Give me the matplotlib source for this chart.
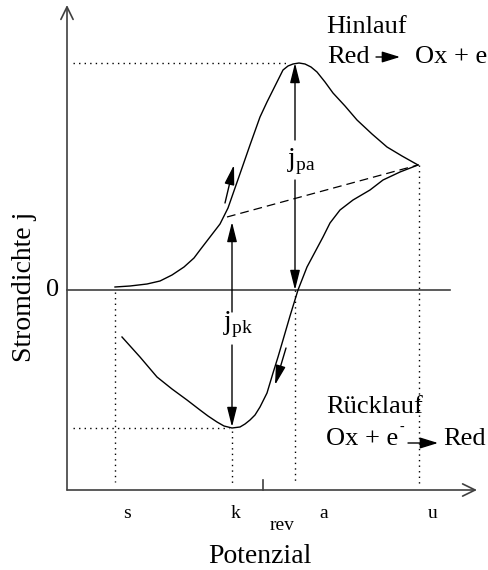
import matplotlib.pyplot as plt

plt.rcParams['font.family'] = ['Liberation Serif', 'DejaVu Serif']
plt.rcParams['mathtext.fontset'] = 'custom'
plt.rcParams['mathtext.rm'] = 'Liberation Serif'

# Hinlauf (Vorwaertsscan): Potenzial / Stromdichte
hin_E = [0.48, 0.63, 0.80, 0.93, 1.05, 1.17, 1.27, 1.33, 1.43, 1.53, 1.61, 1.68,
         1.75, 1.83, 1.93, 2.00, 2.06, 2.11, 2.16, 2.21, 2.26, 2.32, 2.38, 2.44,
         2.50, 2.58, 2.66, 2.78, 2.90, 3.05, 3.20, 3.35, 3.51]
hin_j = [0.03, 0.04, 0.06, 0.09, 0.15, 0.23, 0.32, 0.40, 0.53, 0.66, 0.82, 1.02,
         1.22, 1.45, 1.73, 1.88, 2.00, 2.10, 2.20, 2.24, 2.26, 2.27, 2.26, 2.23,
         2.18, 2.08, 1.97, 1.84, 1.70, 1.56, 1.43, 1.34, 1.25]

# Ruecklauf
rueck_E = [3.51, 3.33, 3.16, 3.03, 2.86, 2.73, 2.63, 2.56, 2.48, 2.40, 2.31, 2.23,
           2.16, 2.11, 2.06, 2.00, 1.93, 1.88, 1.83, 1.78, 1.73, 1.65, 1.57, 1.50,
           1.41, 1.33, 1.20, 1.05, 0.90, 0.73, 0.55]
rueck_j = [1.25, 1.18, 1.10, 1.00, 0.90, 0.80, 0.67, 0.53, 0.38, 0.23, 0.00, -0.26,
           -0.50, -0.67, -0.83, -1.03, -1.17, -1.25, -1.30, -1.34, -1.37, -1.38,
           -1.36, -1.32, -1.26, -1.20, -1.10, -0.99, -0.87, -0.67, -0.47]

# charakteristische Potenziale und Stroeme
E_s, E_k, E_rev, E_a, E_u = 0.48, 1.65, 1.96, 2.28, 3.52
j_pa, j_pk, j_u = 2.27, -1.38, 1.25
basis_E = [1.60, 3.51]
basis_j = [0.73, 1.25]

fig = plt.figure(figsize=(4.88, 5.70), dpi=100)
ax = fig.add_axes([0, 0, 1, 1])
ax.set_xlim(-0.67, 4.21)
ax.set_ylim(-2.80, 2.90)
ax.axis('off')

axcol = '#404040'
j_min = -2.0

# Achsen
achse = dict(arrowstyle='->,head_length=0.45,head_width=0.22', mutation_scale=20,
             color=axcol, lw=1.2, shrinkA=0, shrinkB=0)
ax.annotate('', xy=(0, 2.85), xytext=(0, j_min), arrowprops=achse)
ax.annotate('', xy=(4.10, j_min), xytext=(0, j_min), arrowprops=achse)
ax.plot([0, 3.83], [0, 0], color=axcol, lw=1.2)
ax.plot([E_rev, E_rev], [j_min, j_min + 0.1], color=axcol, lw=1.2)

# Kurven
ax.plot(hin_E, hin_j, color='black', lw=1.0)
ax.plot(rueck_E, rueck_j, color='black', lw=1.0)
ax.plot(basis_E, basis_j, color='black', lw=0.9, dashes=(7, 4))

# gepunktete Hilfslinien
dot = dict(color='black', lw=1.0, linestyle=(0, (1, 3)))
ax.plot([0.06, 2.20], [j_pa, j_pa], **dot)
ax.plot([0.06, E_k - 0.03], [j_pk, j_pk], **dot)
ax.plot([E_s, E_s], [-0.02, -1.92], **dot)
ax.plot([E_k, E_k], [j_pk - 0.03, -1.94], **dot)
ax.plot([E_a, E_a], [0, -1.94], **dot)
ax.plot([E_u, E_u], [j_u, -1.94], **dot)

# Pfeile j_pa, j_pk
pfeil = dict(arrowstyle='-|>,head_length=0.6,head_width=0.15', mutation_scale=20,
             color='black', lw=1.0, shrinkA=0, shrinkB=0)
ax.annotate('', xy=(E_a, j_pa), xytext=(E_a, 1.50), arrowprops=pfeil)
ax.annotate('', xy=(E_a, 0), xytext=(E_a, 1.10), arrowprops=pfeil)
ax.annotate('', xy=(E_k, 0.68), xytext=(E_k, -0.22), arrowprops=pfeil)
ax.annotate('', xy=(E_k, j_pk + 0.01), xytext=(E_k, -0.55), arrowprops=pfeil)

# Richtungspfeile
ax.annotate('', xy=(1.67, 1.25), xytext=(1.58, 0.87), arrowprops=pfeil)
ax.annotate('', xy=(2.08, -0.95), xytext=(2.19, -0.58), arrowprops=pfeil)

ax.text(2.20, 1.28, r'j$_{\mathregular{pa}}$', fontsize=20, ha='left', va='center')
ax.text(1.56, -0.35, r'j$_{\mathregular{pk}}$', fontsize=20, ha='left', va='center')

# Reaktionen
klein = dict(arrowstyle='-|>,head_length=0.55,head_width=0.17', mutation_scale=20,
             color='black', lw=1.0, shrinkA=0, shrinkB=0)
ax.text(2.59, 2.57, 'Hinlauf', fontsize=19, ha='left', va='baseline')
ax.text(2.60, 2.27, 'Red', fontsize=19, ha='left', va='baseline')
ax.annotate('', xy=(3.33, 2.33), xytext=(3.09, 2.33), arrowprops=klein)
ax.text(3.48, 2.27, 'Ox + e', fontsize=19, ha='left', va='baseline')

ax.text(2.59, -1.23, 'Rücklauf', fontsize=19, ha='left', va='baseline')
ax.text(2.59, -1.55, 'Ox + e', fontsize=19, ha='left', va='baseline')
ax.text(3.35, -1.37, '-', fontsize=10, ha='center', va='center')
ax.annotate('', xy=(3.71, -1.53), xytext=(3.41, -1.53), arrowprops=klein)
ax.text(3.76, -1.55, 'Red', fontsize=19, ha='left', va='baseline')

# Beschriftungen
for lab, x in [('s', 0.60), ('k', 1.69), ('a', 2.57), ('u', 3.66)]:
    ax.text(x, -2.28, lab, fontsize=14, ha='center', va='baseline')
ax.text(2.15, -2.40, 'rev', fontsize=14, ha='center', va='baseline')
ax.text(-0.14, 0, '0', fontsize=19, ha='center', va='center')
ax.text(1.93, -2.73, 'Potenzial', fontsize=20, ha='center', va='baseline')
ax.text(-0.42, 0.03, 'Stromdichte j', fontsize=20, rotation=90,
        ha='center', va='center')

fig.savefig('out.png', dpi=100)
